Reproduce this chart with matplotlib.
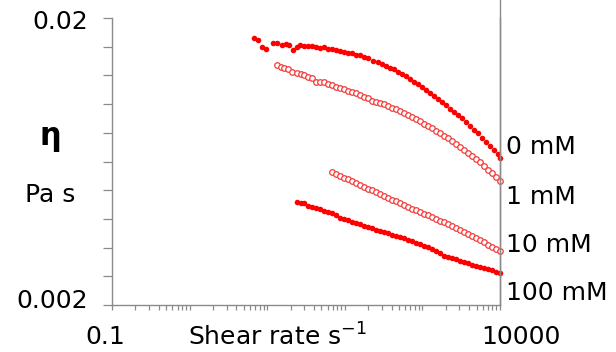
import matplotlib
matplotlib.use("Agg")
import matplotlib.pyplot as plt
import numpy as np
from matplotlib.lines import Line2D
from matplotlib.ticker import FixedLocator, LogLocator, NullFormatter

plt.rcParams["font.family"] = ["DejaVu Sans"]

# shear rate (1/s) and viscosity (Pa s)
rate_0mM = [6.82, 7.68, 8.65, 9.57, 12.0, 13.5, 15.4, 17.3, 19.3, 21.7,
            24.0, 26.7, 30.1, 33.9, 38.1, 42.9, 48.3, 54.4, 61.3, 69.0,
            77.7, 87.5, 98.6, 111, 125, 141, 158, 178, 201, 233,
            268, 302, 340, 382, 430, 485, 546, 615, 692, 780,
            878, 988, 1112, 1253, 1410, 1588, 1789, 2014, 2268, 2553,
            2875, 3237, 3645, 4104, 4621, 5203, 5858, 6596, 7427, 8363, 9418, 10000]
eta_0mM = [0.01700, 0.01676, 0.01589, 0.01560, 0.01633, 0.01641, 0.01607, 0.01620, 0.01611, 0.01547,
           0.01581, 0.01611, 0.01602, 0.01598, 0.01598, 0.01581, 0.01569, 0.01581, 0.01564, 0.01556,
           0.01547, 0.01538, 0.01522, 0.01513, 0.01506, 0.01489, 0.01483, 0.01466, 0.01447, 0.01420,
           0.01402, 0.01383, 0.01364, 0.01342, 0.01325, 0.01300, 0.01279, 0.01256, 0.01229, 0.01200,
           0.01175, 0.01150, 0.01125, 0.01093, 0.01070, 0.01042, 0.01017, 0.00995, 0.00964, 0.00943,
           0.00918, 0.00894, 0.00866, 0.00843, 0.00814, 0.00793, 0.00766, 0.00741, 0.00716, 0.00694,
           0.00672, 0.00653]

rate_1mM = [13.3, 14.9, 16.6, 18.7, 21.1, 24.0, 27.0, 30.1, 33.9, 38.1,
            42.9, 48.3, 54.4, 61.3, 69.0, 77.7, 87.5, 98.5, 111, 125,
            141, 158, 178, 201, 226, 254, 286, 322, 362, 408,
            459, 517, 582, 655, 738, 830, 935, 1052, 1185, 1334,
            1502, 1691, 1904, 2143, 2413, 2717, 3059, 3444, 3877, 4365,
            4914, 5533, 6229, 7013, 7896, 8890, 10000]
eta_1mM = [0.01372, 0.01347, 0.01336, 0.01328, 0.01294, 0.01290, 0.01276, 0.01266, 0.01249, 0.01233,
           0.01200, 0.01194, 0.01194, 0.01178, 0.01168, 0.01152, 0.01138, 0.01129, 0.01113, 0.01102,
           0.01093, 0.01076, 0.01064, 0.01050, 0.01030, 0.01021, 0.01010, 0.01000, 0.00987, 0.00975,
           0.00961, 0.00948, 0.00933, 0.00918, 0.00905, 0.00889, 0.00873, 0.00856, 0.00840, 0.00825,
           0.00810, 0.00794, 0.00778, 0.00763, 0.00746, 0.00729, 0.00712, 0.00695, 0.00679, 0.00661,
           0.00645, 0.00628, 0.00610, 0.00593, 0.00575, 0.00558, 0.00539]

rate_10mM = [69.0, 77.7, 87.5, 98.5, 111, 125, 141, 158, 178, 201,
             226, 254, 286, 322, 362, 408, 459, 517, 582, 655,
             738, 830, 935, 1052, 1185, 1334, 1502, 1691, 1904, 2143,
             2413, 2717, 3059, 3444, 3877, 4365, 4914, 5533, 6229, 7013,
             7896, 8890, 10000]
eta_10mM = [0.005804, 0.005722, 0.005640, 0.005559, 0.005479, 0.005400, 0.005322, 0.005242, 0.005162, 0.005089,
            0.005012, 0.004936, 0.004866, 0.004796, 0.004727, 0.004659, 0.004592, 0.004526, 0.004461, 0.004398,
            0.004335, 0.004276, 0.004217, 0.004164, 0.004107, 0.004055, 0.003998, 0.003937, 0.003880, 0.003822,
            0.003764, 0.003704, 0.003645, 0.003587, 0.003530, 0.003473, 0.003416, 0.003359, 0.003303, 0.003248,
            0.003194, 0.003140, 0.003090]

rate_100mM = [24.0, 27.0, 30.1, 33.9, 38.1, 42.9, 48.3, 54.4, 61.3, 69.0,
              77.7, 87.5, 98.5, 111, 125, 141, 158, 178, 201, 226,
              254, 286, 322, 362, 408, 459, 517, 582, 655, 738,
              830, 935, 1052, 1185, 1334, 1502, 1691, 1904, 2143, 2413,
              2717, 3059, 3444, 3877, 4365, 4914, 5533, 6229, 7013, 7896,
              8890, 10000]
eta_100mM = [0.004580, 0.004533, 0.004551, 0.004443, 0.004398, 0.004362, 0.004320, 0.004268, 0.004217, 0.004184,
             0.004101, 0.004029, 0.003988, 0.003950, 0.003905, 0.003861, 0.003822, 0.003782, 0.003742, 0.003704,
             0.003662, 0.003624, 0.003587, 0.003550, 0.003516, 0.003482, 0.003449, 0.003416, 0.003381, 0.003337,
             0.003294, 0.003257, 0.003219, 0.003180, 0.003140, 0.003090, 0.003035, 0.002974, 0.002940, 0.002912,
             0.002884, 0.002854, 0.002824, 0.002792, 0.002764, 0.002737, 0.002713, 0.002690, 0.002665, 0.002640,
             0.002610, 0.002580]

series_labels = ["0 mM", "1 mM", "10 mM", "100 mM"]

W, H = 616, 352
RED = "#ff0000"
GREY = "#8a8a8a"


def px(x, y):
    return x / W, 1 - y / H


fig = plt.figure(figsize=(W / 100, H / 100), dpi=100)
ax = fig.add_axes([112 / W, 1 - 305 / H, 388 / W, 287 / H])

filled = dict(linestyle="none", marker="o", markersize=4.0, markeredgewidth=0, color=RED, clip_on=False)
hollow = dict(linestyle="none", marker="o", markersize=4.0, markerfacecolor="white",
              markeredgecolor="#f23a3a", markeredgewidth=0.9, clip_on=False)

ax.plot(rate_0mM, eta_0mM, **filled)
ax.plot(rate_1mM, eta_1mM, **hollow)
ax.plot(rate_10mM, eta_10mM, **hollow)
ax.plot(rate_100mM, eta_100mM, **filled)

ax.set_xscale("log")
ax.set_yscale("log")
ax.set_xlim(0.1, 10000)
ax.set_ylim(0.002, 0.02)

ax.xaxis.set_major_locator(LogLocator(base=10, subs=(1.0,)))
ax.xaxis.set_minor_locator(LogLocator(base=10, subs=np.arange(2, 10)))
ax.xaxis.set_major_formatter(NullFormatter())
ax.xaxis.set_minor_formatter(NullFormatter())
ax.yaxis.set_major_locator(FixedLocator(10 ** np.linspace(np.log10(0.002), np.log10(0.02), 11)))
ax.yaxis.set_minor_locator(FixedLocator([]))
ax.yaxis.set_major_formatter(NullFormatter())

ax.tick_params(axis="x", which="both", direction="out", length=3.5, width=0.9, color=GREY)
ax.tick_params(axis="y", which="major", direction="out", length=6.5, width=0.9, color=GREY)

ax.spines["top"].set_visible(False)
for side in ["left", "bottom", "right"]:
    ax.spines[side].set_color(GREY)
    ax.spines[side].set_linewidth(1.0)

# right frame line runs up to the top edge
fig.add_artist(Line2D([500 / W, 500 / W], [1 - 305 / H, 1.0], color=GREY, linewidth=1.0,
                      transform=fig.transFigure))

fs = 18
fig.text(*px(88, 22), "0.02", ha="right", va="center", fontsize=fs)
fig.text(*px(88, 301), "0.002", ha="right", va="center", fontsize=fs)
fig.text(*px(105, 337), "0.1", ha="center", va="center", fontsize=fs)
fig.text(*px(521, 337), "10000", ha="center", va="center", fontsize=fs)
fig.text(*px(188, 337), "Shear rate s$^{-1}$", ha="left", va="center", fontsize=fs)
fig.text(*px(50, 138), "η", ha="center", va="center", fontsize=22, fontweight="bold")
fig.text(*px(50, 195), "Pa s", ha="center", va="center", fontsize=18)

for label, y in zip(series_labels, [147, 197, 245, 293]):
    fig.text(*px(506, y), label, ha="left", va="center", fontsize=fs)

fig.savefig("out.png", dpi=100)
